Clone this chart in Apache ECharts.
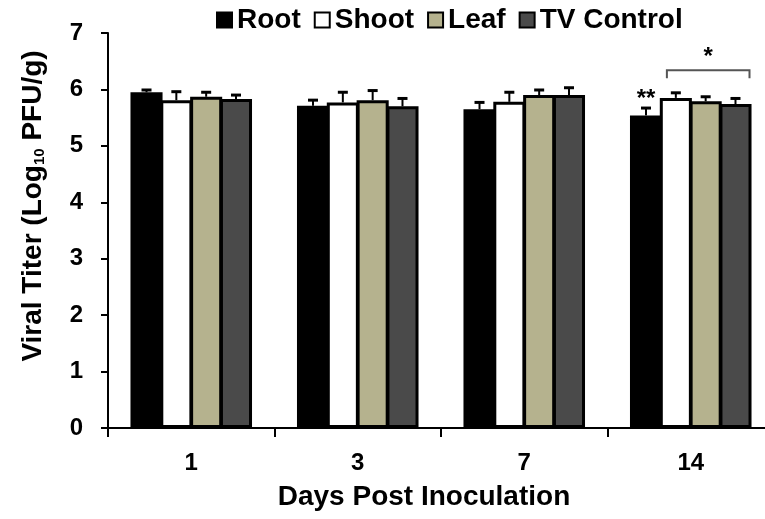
<!DOCTYPE html>
<html>
<head>
<meta charset="utf-8">
<script src="https://cdn.jsdelivr.net/npm/echarts@6/dist/echarts.min.js"></script>
<style>
  html, body { margin: 0; padding: 0; background: #fff; }
  #main { width: 765px; height: 519px; }
</style>
</head>
<body>
<div id="main"></div>
<script>
var days = ['1', '3', '7', '14'];
var groupNames = ['Root', 'Shoot', 'Leaf', 'TV Control'];
var groupColors = ['#000000', '#ffffff', '#b5b28e', '#4a4a4a'];

// mean titer per day, one array per tissue
var rootVals = [5.95, 5.71, 5.65, 5.54];
var shootVals = [5.81, 5.77, 5.78, 5.85];
var leafVals = [5.87, 5.81, 5.90, 5.79];
var tvVals = [5.83, 5.70, 5.90, 5.74];

// upper error (SD)
var rootErr = [0.04, 0.10, 0.12, 0.13];
var shootErr = [0.15, 0.18, 0.17, 0.09];
var leafErr = [0.08, 0.17, 0.09, 0.08];
var tvErr = [0.07, 0.14, 0.13, 0.10];

var yTicks = [0, 1, 2, 3, 4, 5, 6, 7];

var allVals = [rootVals, shootVals, leafVals, tvVals];
var allErr = [rootErr, shootErr, leafErr, tvErr];

var gapPct = 0.27;
var barGapPct = -0.07;
var font = 'Liberation Sans';

var chart = echarts.init(document.getElementById('main'));

// same arithmetic as the bar layout, so whiskers sit on bar centres
function barOffset(api, s) {
    var catW = api.size([1, 0])[0];
    var bw = catW * (1 - gapPct) / (4 + 3 * barGapPct);
    var pitch = bw * (1 + barGapPct);
    return { bw: pitch, off: (s - 1.5) * pitch };
}

var series = [];
for (var s = 0; s < 4; s++) {
    series.push({
        name: groupNames[s],
        type: 'bar',
        data: allVals[s],
        barGap: (barGapPct * 100) + '%',
        barCategoryGap: (gapPct * 100) + '%',
        itemStyle: { color: groupColors[s], borderColor: '#000', borderWidth: 3 },
        z: 2
    });
}

for (var s2 = 0; s2 < 4; s2++) {
    (function (s) {
        var d = [];
        for (var i = 0; i < days.length; i++) d.push([i, allVals[s][i], allErr[s][i]]);
        series.push({
            type: 'custom',
            z: 5,
            silent: true,
            data: d,
            renderItem: function (params, api) {
                var idx = api.value(0);
                var v = api.value(1);
                var e = api.value(2);
                var o = barOffset(api, s);
                var top = api.coord([idx, v + e]);
                var base = api.coord([idx, v]);
                var x = top[0] + o.off;
                return {
                    type: 'group',
                    children: [
                        { type: 'line', shape: { x1: x, y1: base[1], x2: x, y2: top[1] },
                          style: { stroke: '#000', lineWidth: 2 } },
                        { type: 'line', shape: { x1: x - 5, y1: top[1], x2: x + 5, y2: top[1] },
                          style: { stroke: '#000', lineWidth: 3 } }
                    ]
                };
            }
        });
    })(s2);
}

// significance marks on day 14
series.push({
    type: 'custom',
    z: 6,
    silent: true,
    data: [[3]],
    renderItem: function (params, api) {
        var o = barOffset(api, 0);
        var c = api.coord([3, 6.34]);
        var y2 = api.coord([3, 6.2])[1];
        var xl = c[0] - 0.8 * o.bw;
        var xr = c[0] + 1.97 * o.bw;
        var star = api.coord([3, 6.56]);
        var dbl = api.coord([3, 5.82]);
        return {
            type: 'group',
            children: [
                { type: 'polyline', shape: { points: [[xl, y2], [xl, c[1]], [xr, c[1]], [xr, y2]] },
                  style: { stroke: '#555', lineWidth: 2, fill: null } },
                { type: 'text', x: (xl + xr) / 2, y: star[1],
                  style: { text: '*', font: 'bold 24px ' + font, fill: '#000', align: 'center', verticalAlign: 'middle' } },
                { type: 'text', x: dbl[0] + o.off, y: dbl[1],
                  style: { text: '**', font: 'bold 24px ' + font, fill: '#000', align: 'center', verticalAlign: 'middle' } }
            ]
        };
    }
});

var option = {
    backgroundColor: '#fff',
    animation: false,
    textStyle: { fontFamily: font },
    legend: {
        data: groupNames,
        left: 211,
        top: 1,
        icon: 'rect',
        itemWidth: 15,
        itemHeight: 15,
        itemGap: 13,
        itemStyle: { borderColor: '#000', borderWidth: 2 },
        textStyle: { fontFamily: font, fontWeight: 'bold', fontSize: 28, color: '#000', padding: [0, 0, 0, 0] }
    },
    grid: { left: 108, width: 666, top: 33, bottom: 91, outerBoundsMode: 'none', containLabel: false },
    xAxis: {
        type: 'category',
        data: days,
        axisLine: { lineStyle: { color: '#000', width: 2 } },
        axisTick: { show: true, length: 9, lineStyle: { color: '#000', width: 2 } },
        axisLabel: { fontFamily: font, fontWeight: 'bold', fontSize: 24, color: '#000', margin: 23 }
    },
    yAxis: {
        type: 'value',
        min: 0,
        max: 7,
        interval: 1,
        axisLine: { show: true, lineStyle: { color: '#000', width: 2 } },
        axisTick: { show: true, length: 7, lineStyle: { color: '#000', width: 2 } },
        splitLine: { show: false },
        axisLabel: {
            fontFamily: font, fontWeight: 'bold', fontSize: 24, color: '#000', margin: 25,
            formatter: function (v) { return yTicks.indexOf(v) >= 0 ? String(v) : ''; }
        }
    },
    graphic: [
        {
            type: 'text',
            x: 33,
            y: 206,
            rotation: Math.PI / 2,
            style: {
                text: 'Viral Titer (Log{sub|10} PFU/g)',
                font: 'bold 28px ' + font,
                fill: '#000',
                align: 'center',
                verticalAlign: 'middle',
                rich: {
                    sub: { fontFamily: font, fontWeight: 'bold', fontSize: 15, fill: '#000', verticalAlign: 'bottom', padding: [13, 0, 0, 0] }
                }
            }
        },
        {
            type: 'text',
            x: 424,
            y: 497,
            style: {
                text: 'Days Post Inoculation',
                font: 'bold 28px ' + font,
                fill: '#000',
                align: 'center',
                verticalAlign: 'middle'
            }
        }
    ],
    series: series
};

chart.setOption(option);
</script>
</body>
</html>
